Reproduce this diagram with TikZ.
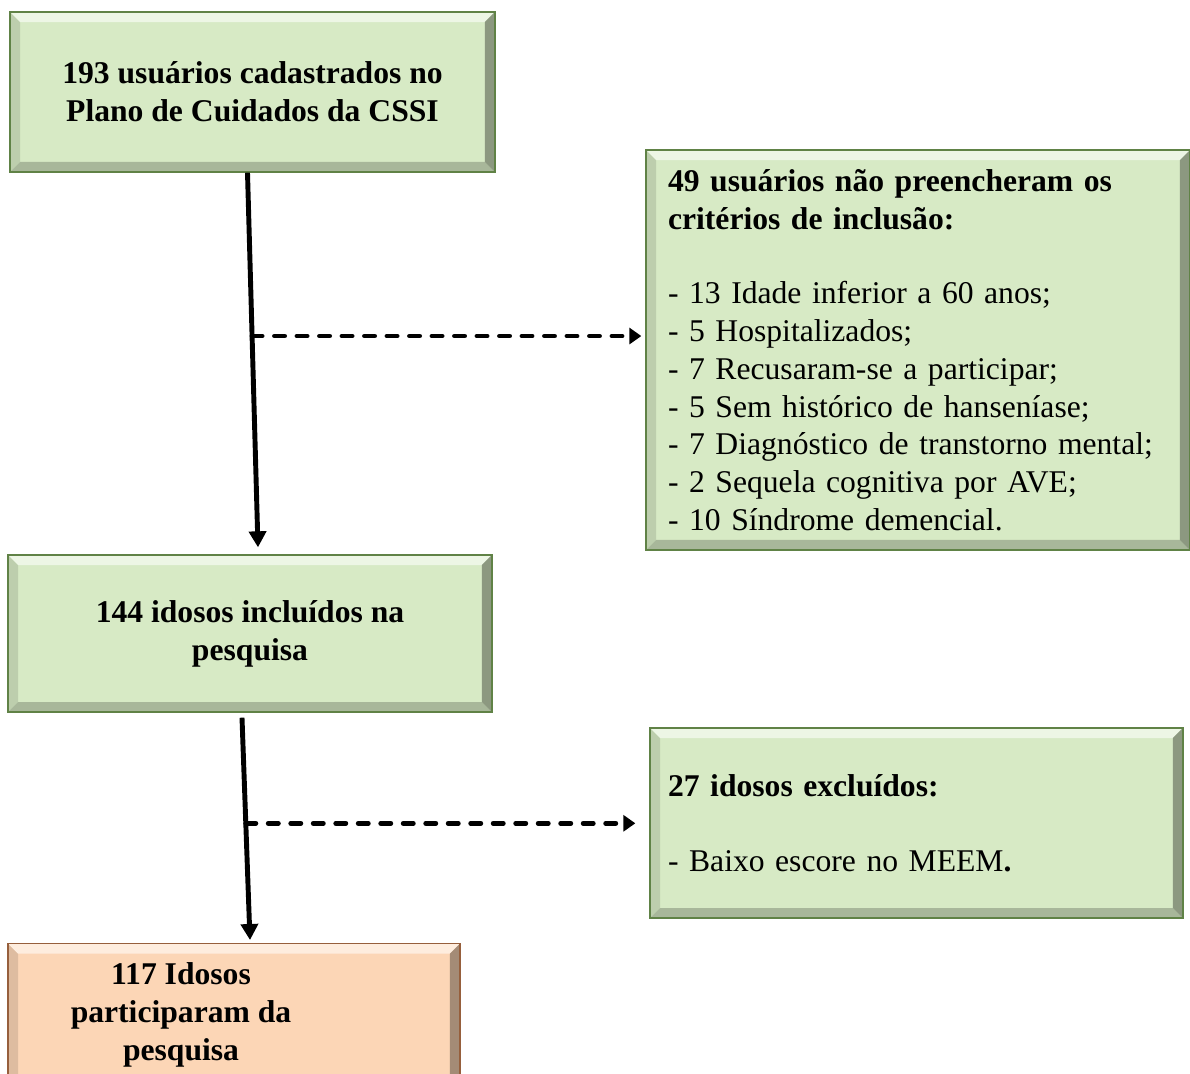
\documentclass[tikz,border=0pt]{standalone}
\usepackage{fontspec}
\setmainfont{Liberation Serif}
\usetikzlibrary{arrows.meta,positioning,calc}

\definecolor{boxfill}{RGB}{215,234,197}
\definecolor{boxedge}{RGB}{96,130,70}
\definecolor{endfill}{RGB}{252,214,182}
\definecolor{endedge}{RGB}{150,95,60}

\begin{document}
\begin{tikzpicture}[
    x=0.02cm, y=-0.02cm,
    bevel/.style={path picture={
        \coordinate (sw) at (path picture bounding box.south west);
        \coordinate (se) at (path picture bounding box.south east);
        \coordinate (nw) at (path picture bounding box.north west);
        \coordinate (ne) at (path picture bounding box.north east);
        \fill[#1!88!black] (sw) -- (nw) -- ([shift={(0.2cm,-0.2cm)}]nw) -- ([shift={(0.2cm,0.2cm)}]sw) -- cycle;
        \fill[#1!45!white] (nw) -- (ne) -- ([shift={(-0.2cm,-0.2cm)}]ne) -- ([shift={(0.2cm,-0.2cm)}]nw) -- cycle;
        \fill[#1!78!black] (sw) -- (se) -- ([shift={(-0.2cm,0.2cm)}]se) -- ([shift={(0.2cm,0.2cm)}]sw) -- cycle;
        \fill[#1!65!black] (se) -- (ne) -- ([shift={(-0.2cm,-0.2cm)}]ne) -- ([shift={(-0.2cm,0.2cm)}]se) -- cycle;
    }},
    box/.style={draw=boxedge, line width=0.8pt, fill=boxfill, bevel=boxfill, inner sep=0pt, font=\fontsize{18}{21.5}\selectfont},
    stage/.style={box, align=center, font=\fontsize{18}{21.5}\selectfont\bfseries},
    exclusion/.style={box, align=left, inner xsep=0.4cm},
    result/.style={stage, draw=endedge, fill=endfill, bevel=endfill},
    flow/.style={-{Triangle[length=0.32cm, width=0.34cm]}, line width=2.8pt},
    sideflow/.style={-{Triangle[length=0.24cm, width=0.32cm]}, line width=2.8pt, dash pattern=on 0.2cm off 0.25cm, line cap=round}
]

% page frame
\path[use as bounding box, clip] (0,0) rectangle (1190,1073);

% Main stages
\node[stage, minimum width=9.7cm, minimum height=3.2cm] (first) at (252.5,92) {193 usuários cadastrados no\\Plano de Cuidados da CSSI};
\node[stage, minimum width=9.68cm, minimum height=3.14cm] (incl) at (250,633.5) {144 idosos incluídos na\\pesquisa};
\node[result, minimum width=9.04cm, minimum height=2.84cm, anchor=north] (final) at (234,943) {\begin{tabular}{@{}c@{}}117 Idosos\\participaram da\\pesquisa\end{tabular}\hspace{2.12cm}};

% Exclusions
\node[exclusion, text width=10cm, inner xsep=0.44cm, minimum height=8cm] (excl1) at (918,350) {\textbf{49 usuários não preencheram os}\\\textbf{critérios de inclusão:}\\[21pt]- 13 Idade inferior a 60 anos;\\- 5 Hospitalizados;\\- 7 Recusaram-se a participar;\\- 5 Sem histórico de hanseníase;\\- 7 Diagnóstico de transtorno mental;\\- 2 Sequela cognitiva por AVE;\\- 10 Síndrome demencial.};
\node[exclusion, text width=9.94cm, inner xsep=0.36cm, minimum height=3.8cm] (excl2) at (916.5,823) {\textbf{27 idosos excluídos:}\\[21pt]- Baixo escore no MEEM\textbf{.}};

% Connections
\coordinate (top1) at ($(first.south)+(-5,0)$);
\coordinate (bot1) at ($(incl.north)+(8,-7)$);
\draw[flow] (top1) -- (bot1);
\coordinate (split1) at ($(top1)!0.436!(bot1)$);
\draw[sideflow] (split1) -- ($(split1 -| excl1.west)+(-4,0)$);

\coordinate (top2) at ($(incl.south)+(-8,5)$);
\coordinate (bot2) at ($(final.north)+(16,-3)$);
\draw[flow] (top2) -- (bot2);
\coordinate (split2) at ($(top2)!0.475!(bot2)$);
\draw[sideflow] (split2) -- ($(split2 -| excl2.west)+(-14,0)$);

\end{tikzpicture}
\end{document}
